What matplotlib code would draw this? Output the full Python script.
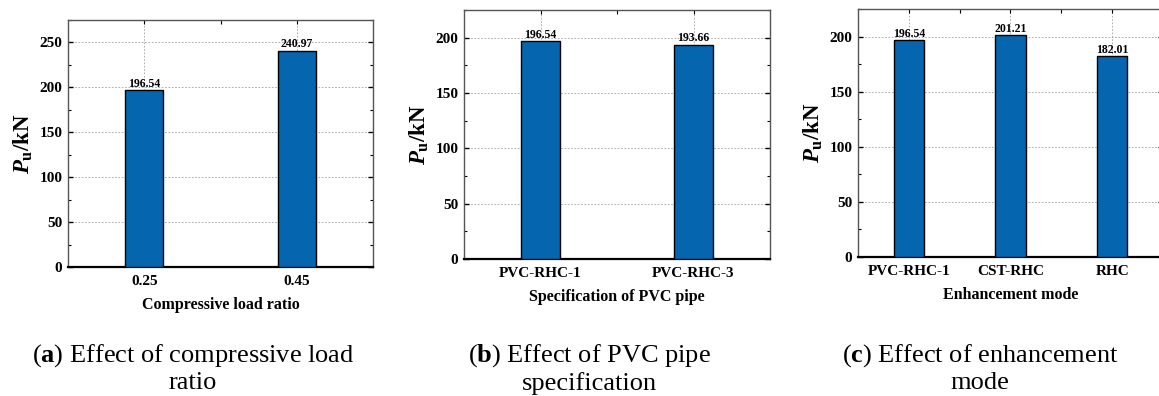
import numpy as np
import matplotlib
matplotlib.use('Agg')
import matplotlib.pyplot as plt
from matplotlib.ticker import MultipleLocator, FixedLocator

plt.rcParams['font.family'] = ['Liberation Serif', 'DejaVu Serif']
plt.rcParams['mathtext.fontset'] = 'custom'
plt.rcParams['mathtext.rm'] = 'Liberation Serif'
plt.rcParams['mathtext.bf'] = 'Liberation Serif:bold'
plt.rcParams['mathtext.it'] = 'Liberation Serif:bold:italic'

# data
ratio_labels = ['0.25', '0.45']
ratio_values = [196.54, 240.97]

pipe_labels = ['PVC-RHC-1', 'PVC-RHC-3']
pipe_values = [196.54, 193.66]

mode_labels = ['PVC-RHC-1', 'CST-RHC', 'RHC']
mode_values = [196.54, 201.21, 182.01]

xlabels = ['Compressive load ratio', 'Specification of PVC pipe', 'Enhancement mode']
captions = [r'($\mathbf{a}$) Effect of compressive load' + '\nratio',
            r'($\mathbf{b}$) Effect of PVC pipe' + '\nspecification',
            r'($\mathbf{c}$) Effect of enhancement' + '\nmode']

BAR_COLOR = '#0565ae'
W, H = 1159, 396

fig = plt.figure(figsize=(W / 100, H / 100), dpi=100)


def px_axes(left, right, top, bottom):
    return fig.add_axes([left / W, (H - bottom) / H, (right - left) / W, (bottom - top) / H])


def draw_panel(ax, labels, values, width, ylim, ymajor, xlabel):
    x = np.arange(len(labels))
    ax.bar(x, values, width=width, color=BAR_COLOR, edgecolor='black', linewidth=1.0, zorder=3)
    for xi, v in zip(x, values):
        ax.text(xi, v + 0.6, f'{v:.2f}', ha='center', va='bottom', fontsize=8.5,
                fontweight='bold', zorder=4)
    ax.set_xlim(-0.5, len(labels) - 0.5)
    ax.set_ylim(*ylim)
    ax.set_xticks(x)
    ax.set_xticklabels(labels, fontsize=11, fontweight='bold')
    ax.xaxis.set_minor_locator(FixedLocator(x[:-1] + 0.5))
    ax.yaxis.set_major_locator(MultipleLocator(ymajor))
    ax.yaxis.set_minor_locator(MultipleLocator(ymajor / 2))
    for lab in ax.get_yticklabels():
        lab.set_fontweight('bold')
    ax.tick_params(axis='y', which='both', direction='in', left=True, right=True,
                   labelsize=11, pad=4)
    ax.tick_params(axis='y', which='major', length=3.5, width=1)
    ax.tick_params(axis='y', which='minor', length=2, width=0.8)
    ax.tick_params(axis='x', which='both', direction='in', bottom=False, top=True, pad=6)
    ax.tick_params(axis='x', which='major', length=3, width=0.8)
    ax.tick_params(axis='x', which='minor', length=3, width=0.8)
    ax.grid(True, which='major', color='#a0a0a0', linestyle=(0, (2, 2)), linewidth=0.6, zorder=0)
    for side in ['left', 'top', 'right']:
        ax.spines[side].set_color('#555555')
        ax.spines[side].set_linewidth(1.0)
    ax.spines['bottom'].set_color('black')
    ax.spines['bottom'].set_linewidth(1.6)
    ax.set_ylabel(r'$P_{\mathbf{u}}$/kN', fontsize=16.5, fontweight='bold', labelpad=3)
    ax.set_xlabel(xlabel, fontsize=11.5, fontweight='bold', labelpad=6)


ax1 = px_axes(68, 373, 20, 267)
draw_panel(ax1, ratio_labels, ratio_values, 0.25, (0, 275), 50, xlabels[0])

ax2 = px_axes(464, 770, 10, 259)
draw_panel(ax2, pipe_labels, pipe_values, 0.25, (0, 225), 50, xlabels[1])

ax3 = px_axes(858, 1163, 9, 257)
draw_panel(ax3, mode_labels, mode_values, 0.3, (0, 225), 50, xlabels[2])

for cx, cap in zip([193, 589, 980], captions):
    fig.text(cx / W, 1 - 342 / H, cap, ha='center', va='top', fontsize=19,
             multialignment='center', linespacing=1.2)

fig.savefig('out.png', dpi=100)
